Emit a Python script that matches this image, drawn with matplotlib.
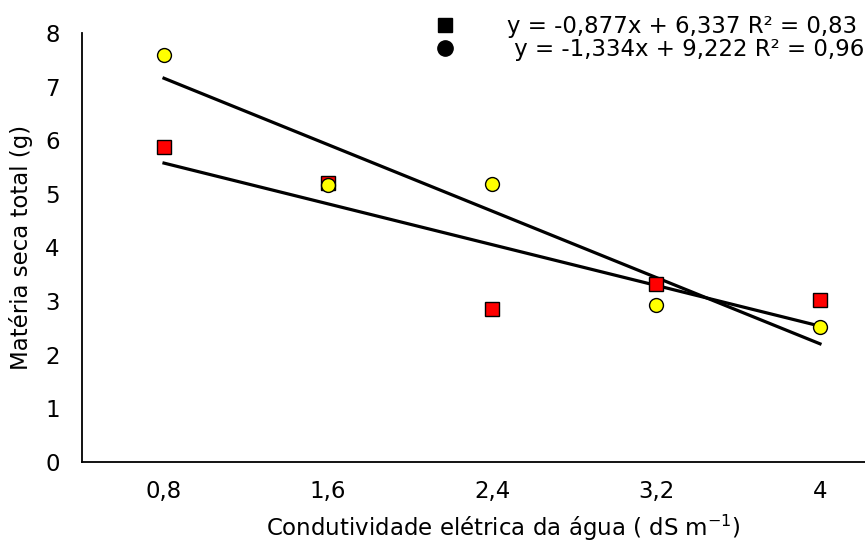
import numpy as np
import matplotlib
matplotlib.use("Agg")
import matplotlib.pyplot as plt
from matplotlib.lines import Line2D

plt.rcParams['font.family'] = ['DejaVu Sans']
plt.rcParams['mathtext.fontset'] = 'dejavusans'

# condutividade elétrica (categorias) e matéria seca total
categorias = ['0,8', '1,6', '2,4', '3,2', '4']
serie_quadrado = [5.88, 5.20, 2.85, 3.32, 3.02]
serie_circulo = [7.59, 5.17, 5.19, 2.93, 2.52]
rotulo_quadrado = 'y = -0,877x + 6,337 R² = 0,83'
rotulo_circulo = ' y = -1,334x + 9,222 R² = 0,96'

fs = 16.5
x = np.arange(1, len(categorias) + 1)

fig = plt.figure(figsize=(8.65, 5.44), dpi=100)
ax = fig.add_axes([82 / 865, 82 / 544, 1 - 82 / 865, (462 - 33) / 544])

# linhas de tendência linear
for y in (serie_quadrado, serie_circulo):
    a, b = np.polyfit(x, y, 1)
    ax.plot(x, a * x + b, color='black', lw=2.3, zorder=2)

ax.plot(x, serie_quadrado, 's', ms=10, mfc='#ff0000', mec='black', mew=1.0, zorder=3)
ax.plot(x, serie_circulo, 'o', ms=10, mfc='#ffff00', mec='black', mew=1.0, zorder=4)

ax.set_xlim(0.5, 0.5 + (865 - 82) / 164)
ax.set_ylim(0, 8)
ax.set_xticks(x)
ax.set_xticklabels(categorias)
ax.set_yticks(range(0, 9))
ax.tick_params(length=0, labelsize=fs)
ax.tick_params(axis='x', pad=13)
ax.tick_params(axis='y', pad=16)
for s in ('top', 'right'):
    ax.spines[s].set_visible(False)
for s in ('left', 'bottom'):
    ax.spines[s].set_linewidth(1.3)

ax.set_ylabel('Matéria seca total (g)', fontsize=fs, labelpad=9)
ax.set_xlabel('Condutividade elétrica da água ( dS m$^{-1}$)', fontsize=fs)
ax.xaxis.set_label_coords(0.538, -0.118)

handles = [
    Line2D([], [], ls='none', marker='s', ms=10.5, color='black'),
    Line2D([], [], ls='none', marker='o', ms=11, color='black'),
]
fig.legend(handles, [rotulo_quadrado, rotulo_circulo], loc='upper left',
           bbox_to_anchor=(422 / 865, 1 - 15 / 544), frameon=False,
           fontsize=fs, borderpad=0, borderaxespad=0, handlelength=2,
           handletextpad=1.7, labelspacing=0.0)

fig.savefig('out.png', dpi=100)
